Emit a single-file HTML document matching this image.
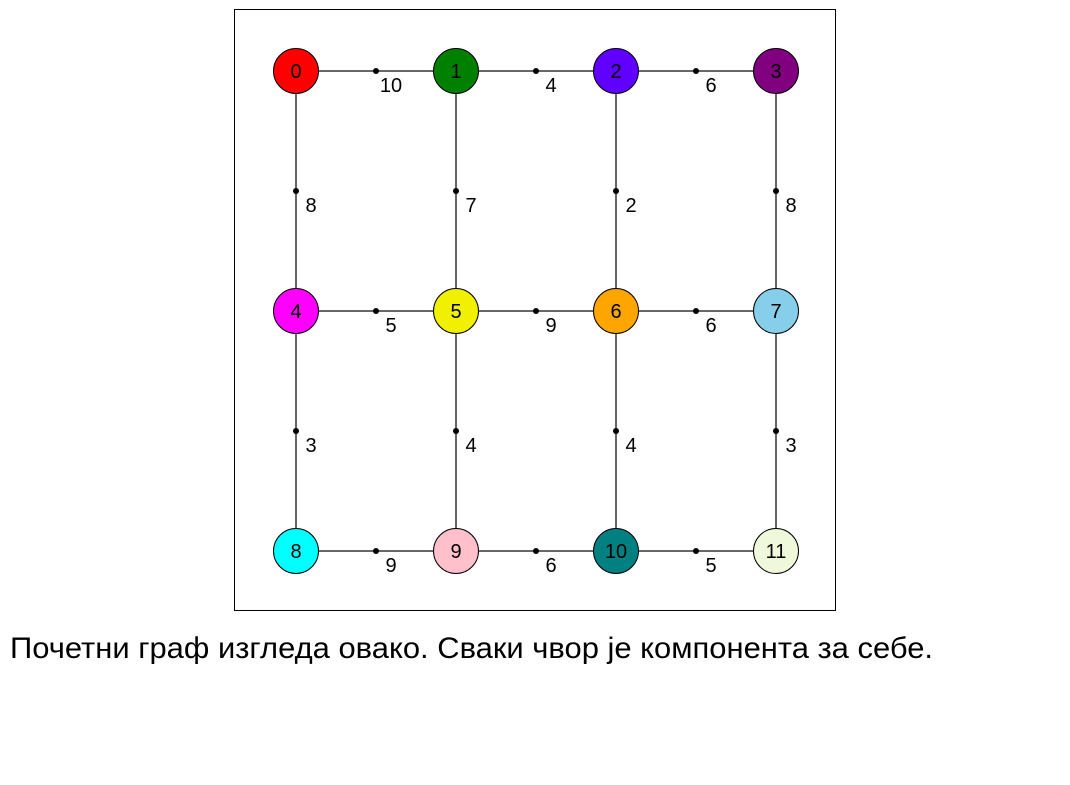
<!DOCTYPE html>
<html><head><meta charset="utf-8"><style>
html,body{margin:0;padding:0;background:#fff;width:1070px;height:785px;overflow:hidden}
svg text{font-family:"Liberation Sans",Arial,sans-serif}
</style></head><body>
<svg width="1070" height="785" viewBox="0 0 1070 785" xmlns="http://www.w3.org/2000/svg">
<rect x="234.5" y="9.5" width="601" height="601" fill="#fff" stroke="#000" stroke-width="1"/>
<g stroke="#333" stroke-width="1.5">
<line x1="296" y1="71" x2="776" y2="71"/>
<line x1="296" y1="311" x2="776" y2="311"/>
<line x1="296" y1="551" x2="776" y2="551"/>
<line x1="296" y1="71" x2="296" y2="551"/>
<line x1="456" y1="71" x2="456" y2="551"/>
<line x1="616" y1="71" x2="616" y2="551"/>
<line x1="776" y1="71" x2="776" y2="551"/>
</g>
<g fill="#000">
<circle cx="376" cy="71" r="3"/><circle cx="536" cy="71" r="3"/><circle cx="696" cy="71" r="3"/>
<circle cx="376" cy="311" r="3"/><circle cx="536" cy="311" r="3"/><circle cx="696" cy="311" r="3"/>
<circle cx="376" cy="551" r="3"/><circle cx="536" cy="551" r="3"/><circle cx="696" cy="551" r="3"/>
<circle cx="296" cy="191" r="3"/><circle cx="456" cy="191" r="3"/><circle cx="616" cy="191" r="3"/><circle cx="776" cy="191" r="3"/>
<circle cx="296" cy="431" r="3"/><circle cx="456" cy="431" r="3"/><circle cx="616" cy="431" r="3"/><circle cx="776" cy="431" r="3"/>
</g>
<g font-size="20" fill="#000" text-anchor="middle">
<text x="391" y="92">10</text><text x="551" y="92">4</text><text x="711" y="92">6</text>
<text x="391" y="332">5</text><text x="551" y="332">9</text><text x="711" y="332">6</text>
<text x="391" y="572">9</text><text x="551" y="572">6</text><text x="711" y="572">5</text>
<text x="311" y="212">8</text><text x="471" y="212">7</text><text x="631" y="212">2</text><text x="791" y="212">8</text>
<text x="311" y="452">3</text><text x="471" y="452">4</text><text x="631" y="452">4</text><text x="791" y="452">3</text>
</g>
<g stroke="#000" stroke-width="1">
<circle cx="296" cy="71" r="22.5" fill="#ff0000"/>
<circle cx="456" cy="71" r="22.5" fill="#008000"/>
<circle cx="616" cy="71" r="22.5" fill="#6000ff"/>
<circle cx="776" cy="71" r="22.5" fill="#800080"/>
<circle cx="296" cy="311" r="22.5" fill="#ff00ff"/>
<circle cx="456" cy="311" r="22.5" fill="#f0f000"/>
<circle cx="616" cy="311" r="22.5" fill="#ffa500"/>
<circle cx="776" cy="311" r="22.5" fill="#87ceeb"/>
<circle cx="296" cy="551" r="22.5" fill="#00ffff"/>
<circle cx="456" cy="551" r="22.5" fill="#ffc0cb"/>
<circle cx="616" cy="551" r="22.5" fill="#008080"/>
<circle cx="776" cy="551" r="22.5" fill="#f0f8dc"/>
</g>
<g font-size="20" fill="#000" text-anchor="middle">
<text x="296" y="78">0</text><text x="456" y="78">1</text><text x="616" y="78">2</text><text x="776" y="78">3</text>
<text x="296" y="318">4</text><text x="456" y="318">5</text><text x="616" y="318">6</text><text x="776" y="318">7</text>
<text x="296" y="558">8</text><text x="456" y="558">9</text><text x="616" y="558">10</text><text x="776" y="558">11</text>
</g>
<text x="10" y="658" font-size="30" fill="#000" textLength="923" lengthAdjust="spacingAndGlyphs">Почетни граф изгледа овако. Сваки чвор је компонента за себе.</text>
</svg>
</body></html>
